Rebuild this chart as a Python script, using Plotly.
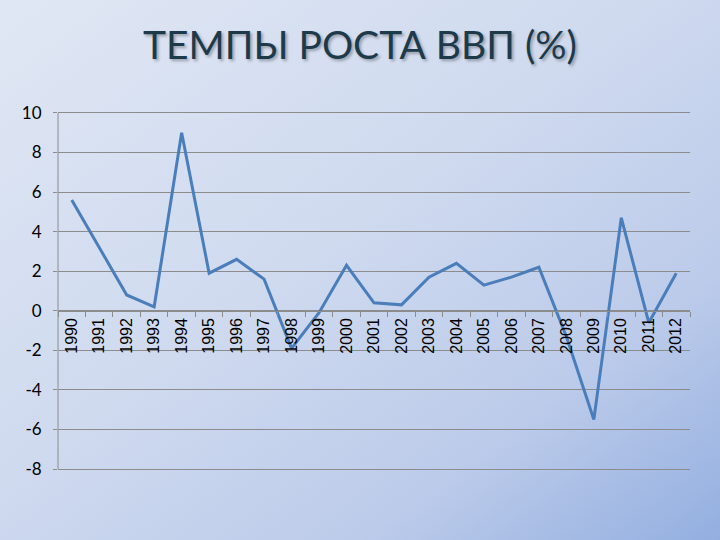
import base64
import plotly.graph_objects as go

years = [str(y) for y in range(1990, 2013)]
growth = [5.6, 3.2, 0.8, 0.2, 9.0, 1.9, 2.6, 1.6, -1.9, -0.1, 2.3, 0.4, 0.3,
          1.7, 2.4, 1.3, 1.7, 2.2, -1.3, -5.5, 4.7, -0.6, 1.9]
y_ticks = [-8, -6, -4, -2, 0, 2, 4, 6, 8, 10]
y_tick_labels = ["-8", "-6", "-4", "-2", "0", "2", "4", "6", "8", "10"]
title_text = "ТЕМПЫ РОСТА ВВП (%)"

W, H = 720, 540
ML, MR, MT, MB = 58, 30, 110, 68
PW, PH = W - ML - MR, H - MT - MB
Y0, Y1 = -8.15, 10.15

svg = f'''<svg xmlns="http://www.w3.org/2000/svg" width="{W}" height="{H}" preserveAspectRatio="none">
<defs><linearGradient id="g" x1="0" y1="0" x2="1" y2="1">
<stop offset="0" stop-color="#e0e7f4"/>
<stop offset="0.45" stop-color="#cfdaef"/>
<stop offset="0.75" stop-color="#bccbea"/>
<stop offset="1" stop-color="#93afe0"/>
</linearGradient></defs>
<rect width="{W}" height="{H}" fill="url(#g)"/></svg>'''
src = "data:image/svg+xml;base64," + base64.b64encode(svg.encode()).decode()

fig = go.Figure()
fig.add_trace(go.Scatter(x=years, y=growth, mode="lines",
                         line=dict(color="#4a7ebb", width=3)))

grid = "#8c8c8c"
fig.update_layout(
    width=W, height=H,
    margin=dict(l=ML, r=MR, t=MT, b=MB),
    paper_bgcolor="#d3ddf0",
    plot_bgcolor="rgba(0,0,0,0)",
    showlegend=False,
    title=dict(text=title_text, x=0.5, xanchor="center", y=1 - 45 / H, yanchor="middle",
               font=dict(family="Lato", size=39, color="#1d3a4b",
                         shadow="2px 2px 3px rgba(0,0,0,0.3)")),
    images=[dict(source=src, xref="paper", yref="paper",
                 x=-ML / PW, y=1 + MT / PH, sizex=W / PW, sizey=H / PH,
                 xanchor="left", yanchor="top", sizing="stretch", layer="below")],
    xaxis=dict(type="category", anchor="free", position=(0 - Y0) / (Y1 - Y0),
               range=[-0.5, len(years) - 0.5],
               showline=True, linecolor=grid, linewidth=1,
               ticks="outside", tickson="boundaries", ticklen=5, tickcolor=grid,
               tickangle=-90, showgrid=False,
               tickfont=dict(family="Liberation Sans", size=16, color="#000000")),
    yaxis=dict(range=[Y0, Y1], tickvals=y_ticks, ticktext=y_tick_labels,
               showgrid=True, gridcolor=grid, gridwidth=1,
               zeroline=True, zerolinecolor=grid, zerolinewidth=1,
               showline=False,
               ticks="outside", ticklen=4, tickcolor=grid, ticklabelstandoff=8,
               tickfont=dict(family="Lato", size=17, color="#000000")),
    shapes=[dict(type="line", xref="paper", yref="y", x0=0, x1=0, y0=y_ticks[0], y1=y_ticks[-1],
                 line=dict(color=grid, width=1))],
)
fig.write_html("out.html", config={"displayModeBar": False},
               post_script="document.body.style.margin='0';")
